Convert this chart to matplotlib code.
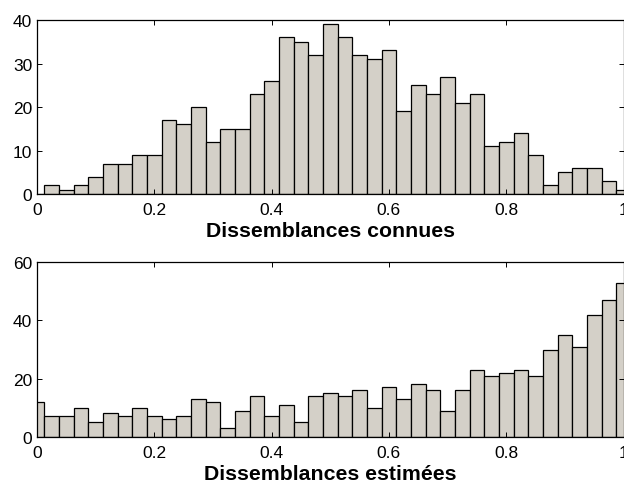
import numpy as np
import matplotlib.pyplot as plt

plt.rcParams['font.family'] = ['Liberation Sans', 'DejaVu Sans']

# bin centres (step 0.025, from 0 to 1)
centres = np.arange(41) * 0.025
known = [0, 2, 1, 2, 4, 7, 7, 9, 9, 17, 16, 20, 12, 15, 15, 23, 26, 36, 35, 32, 39,
         36, 32, 31, 33, 19, 25, 23, 27, 21, 23, 11, 12, 14, 9, 2, 5, 6, 6, 3, 1]
estimated = [12, 7, 7, 10, 5, 8, 7, 10, 7, 6, 7, 13, 12, 3, 9, 14, 7, 11, 5, 14,
             15, 14, 16, 10, 17, 13, 18, 16, 9, 16, 23, 21, 22, 23, 21, 30, 35, 31,
             42, 47, 53]
xticks = [0, 0.2, 0.4, 0.6, 0.8, 1]
xticklabels = ["0", "0.2", "0.4", "0.6", "0.8", "1"]

fig = plt.figure(figsize=(6.24, 4.85), dpi=100)
ax1 = fig.add_axes([37/624, 1-195/485, 586.5/624, 174/485])
ax2 = fig.add_axes([37/624, 1-437.7/485, 586.5/624, 174.4/485])

panels = [(ax1, known, [0, 10, 20, 30, 40], 40, "Dissemblances connues"),
          (ax2, estimated, [0, 20, 40, 60], 60, "Dissemblances estimées")]
for ax, vals, yt, ymax, lab in panels:
    ax.bar(centres, vals, width=0.025, color="#d4d0c8", edgecolor="#000000",
           linewidth=0.9, align="center")
    ax.set_xlim(0, 1)
    ax.set_ylim(0, ymax)
    ax.set_xticks(xticks)
    ax.set_xticklabels(xticklabels)
    ax.set_yticks(yt)
    ax.tick_params(direction="in", length=3.6, width=0.7, top=True, right=True,
                   labelsize=12.5)
    ax.tick_params(axis="x", pad=6)
    ax.tick_params(axis="y", pad=3.5)
    for s in ax.spines.values():
        s.set_linewidth(0.9)
    ax.set_xlabel(lab, fontsize=15.3, fontweight="bold", labelpad=2.5)

fig.savefig("out.png", dpi=100)
